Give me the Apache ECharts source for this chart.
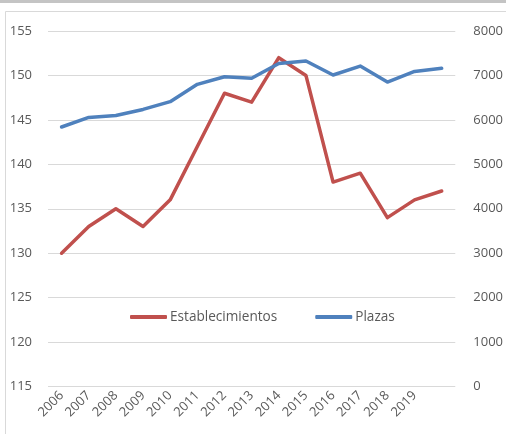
<!DOCTYPE html>
<html>
<head>
<meta charset="utf-8">
<script src="https://cdn.jsdelivr.net/npm/echarts@6/dist/echarts.min.js"></script>
<style>
html,body{margin:0;padding:0;background:#fff;}
#chart{width:506px;height:434px;}
</style>
</head>
<body>
<div id="chart"></div>
<script>
const categories = ['2006','2007','2008','2009','2010','2011','2012','2013','2014','2015','2016','2017','2018','2019',''];
const establecimientos = [130,133,135,133,136,142,148,147,152,150,138,139,134,136,137];
const plazas = [5840,6055,6100,6235,6410,6800,6970,6935,7270,7325,7010,7210,6850,7090,7160];
const leftTicks = {min:115, max:155, interval:5};
const rightTicks = {min:0, max:8000, interval:1000};

const chart = echarts.init(document.getElementById('chart'), null, {renderer:'canvas'});
const labelFont = {color:'#595959', fontFamily:'Open Sans', fontSize:13};
chart.setOption({
  animation:false,
  backgroundColor:'#ffffff',
  graphic:[
    {type:'rect', shape:{x:0,y:0,width:506,height:3}, style:{fill:'#c4c4c4'}, silent:true},
    {type:'line', shape:{x1:5.5,y1:11.5,x2:506,y2:11.5}, style:{stroke:'#d9d9d9',lineWidth:1}, silent:true},
    {type:'line', shape:{x1:5.5,y1:11.5,x2:5.5,y2:434}, style:{stroke:'#d9d9d9',lineWidth:1}, silent:true}
  ],
  grid:{left:48, right:46, top:31, bottom:47.5, containLabel:false},
  legend:{
    left:125, top:305,
    itemWidth:37, itemHeight:4, itemGap:38,
    icon:'roundRect',
    textStyle:{color:'#595959', fontFamily:'Open Sans', fontSize:13.6, padding:[0,0,0,-2]},
    data:['Establecimientos','Plazas']
  },
  xAxis:{
    type:'category', data:categories, boundaryGap:true,
    axisLine:{show:false}, axisTick:{show:false},
    axisLabel:Object.assign({rotate:45, margin:7, interval:0}, labelFont)
  },
  yAxis:[
    {type:'value', min:leftTicks.min, max:leftTicks.max, interval:leftTicks.interval,
     axisLine:{show:false}, axisTick:{show:false},
     splitLine:{lineStyle:{color:'#d9d9d9', width:1}},
     axisLabel:Object.assign({margin:16, align:'right', formatter:v => String(v)}, labelFont)},
    {type:'value', min:rightTicks.min, max:rightTicks.max, interval:rightTicks.interval,
     axisLine:{show:false}, axisTick:{show:false},
     splitLine:{show:false},
     axisLabel:Object.assign({margin:18, align:'left', formatter:v => String(v)}, labelFont)}
  ],
  series:[
    {name:'Establecimientos', type:'line', yAxisIndex:0, data:establecimientos,
     showSymbol:false, symbol:'none', color:'#C0504D',
     lineStyle:{width:3.5, color:'#C0504D', cap:'round', join:'round'}},
    {name:'Plazas', type:'line', yAxisIndex:1, data:plazas,
     showSymbol:false, symbol:'none', color:'#4F81BD',
     lineStyle:{width:3.5, color:'#4F81BD', cap:'round', join:'round'}}
  ]
});
</script>
</body>
</html>
